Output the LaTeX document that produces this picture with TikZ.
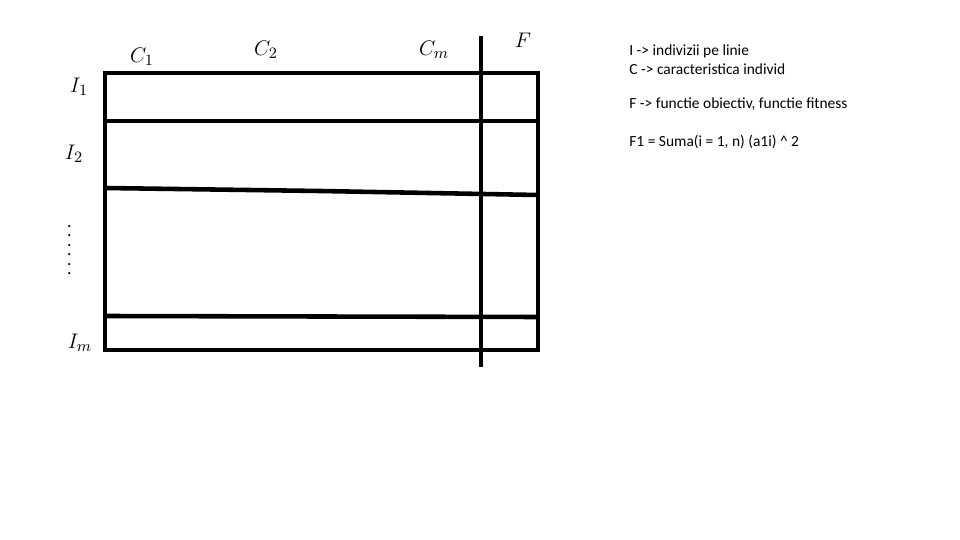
\documentclass[tikz,border=0pt]{standalone}
\usepackage{fontspec}
\setmainfont{Carlito}
\usetikzlibrary{positioning}

\begin{document}
\begin{tikzpicture}[x=0.02cm, y=-0.02cm,
	grid/.style={line width=2.6pt},
	hand/.style={font=\fontsize{13}{14}\selectfont, inner sep=0pt},
	note/.style={font=\fontsize{8.8}{10}\selectfont, anchor=west, inner sep=0pt}]
	\useasboundingbox (0,0) rectangle (960,540);
	
	\draw[grid] (105,73) rectangle (538,350);
	\draw[grid] (105,121) -- (538,121);
	\draw[grid] (105,188) -- (320,191) -- (538,195);
	\draw[grid] (105,316) -- (538,317);
	\draw[grid] (481,36) -- (481,367);
	
	\node[hand] (c1) at (142,57) {$C_1$};
	\node[hand] (c2) at (266,50) {$C_2$};
	\node[hand] (cm) at (434,50) {$C_m$};
	\node[hand] (f) at (523,40) {$F$};
	
	\node[hand] (i1) at (79,87) {$I_1$};
	\node[hand] (i2) at (74,154) {$I_2$};
	\node[hand, rotate=90] (dots) at (70,250) {$\cdots\cdots$};
	\node[hand] (im) at (80,343) {$I_m$};
	
	\node[note] (t1) at (629,51) {I -> indivizii pe linie};
	\node[note] (t2) at (629,69) {C -> caracteristica individ};
	\node[note] (t3) at (629,104) {F -> functie obiectiv, functie fitness};
	\node[note] (t4) at (629,142) {F1 = Suma(i = 1, n) (a1i) \^{} 2};
\end{tikzpicture}
\end{document}
